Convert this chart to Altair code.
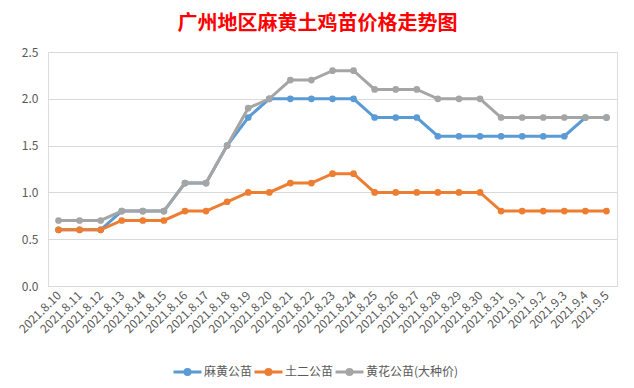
import altair as alt
import pandas as pd

dates = ["2021.8.10", "2021.8.11", "2021.8.12", "2021.8.13", "2021.8.14", "2021.8.15",
         "2021.8.16", "2021.8.17", "2021.8.18", "2021.8.19", "2021.8.20", "2021.8.21",
         "2021.8.22", "2021.8.23", "2021.8.24", "2021.8.25", "2021.8.26", "2021.8.27",
         "2021.8.28", "2021.8.29", "2021.8.30", "2021.8.31", "2021.9.1", "2021.9.2",
         "2021.9.3", "2021.9.4", "2021.9.5"]
series_names = ["麻黄公苗", "土二公苗", "黄花公苗(大种价)"]
mahuang = [0.6, 0.6, 0.6, 0.8, 0.8, 0.8, 1.1, 1.1, 1.5, 1.8, 2.0, 2.0, 2.0, 2.0, 2.0,
           1.8, 1.8, 1.8, 1.6, 1.6, 1.6, 1.6, 1.6, 1.6, 1.6, 1.8, 1.8]
tuer = [0.6, 0.6, 0.6, 0.7, 0.7, 0.7, 0.8, 0.8, 0.9, 1.0, 1.0, 1.1, 1.1, 1.2, 1.2,
        1.0, 1.0, 1.0, 1.0, 1.0, 1.0, 0.8, 0.8, 0.8, 0.8, 0.8, 0.8]
huanghua = [0.7, 0.7, 0.7, 0.8, 0.8, 0.8, 1.1, 1.1, 1.5, 1.9, 2.0, 2.2, 2.2, 2.3, 2.3,
            2.1, 2.1, 2.1, 2.0, 2.0, 2.0, 1.8, 1.8, 1.8, 1.8, 1.8, 1.8]
colors = ["#5B9BD5", "#ED7D31", "#A5A5A5"]

rows = []
for name, vals in zip(series_names, [mahuang, tuer, huanghua]):
    for d, v in zip(dates, vals):
        rows.append({"date": d, "value": v, "series": name})
df = pd.DataFrame(rows)

FONT = "Noto Sans CJK SC"
LABEL_COLOR = "#595959"

x = alt.X("date:N", sort=dates, title=None,
          scale=alt.Scale(type="point", padding=0.5),
          axis=alt.Axis(labelAngle=315, labelAlign="right", labelBaseline="middle",
                        labelPadding=7, ticks=False, domainColor="#D9D9D9",
                        labelFontSize=12, labelColor=LABEL_COLOR, labelFont=FONT,
                        labelOverlap=False))
y = alt.Y("value:Q", title=None,
          scale=alt.Scale(domain=[0, 2.5], nice=False),
          axis=alt.Axis(values=[0, 0.5, 1.0, 1.5, 2.0, 2.5], format=".1f", domain=False,
                        ticks=False, labelPadding=10, gridColor="#D9D9D9",
                        labelFontSize=12, labelColor=LABEL_COLOR, labelFont=FONT))

sym = "M-1,0H1M-0.18,0A0.18,0.18,0,1,1,0.18,0A0.18,0.18,0,1,1,-0.18,0Z"
color = alt.Color("series:N", sort=series_names,
                  scale=alt.Scale(domain=series_names, range=colors),
                  legend=alt.Legend(title=None, orient="none", direction="horizontal",
                                    legendX=124, legendY=304, symbolType=sym,
                                    symbolSize=784, symbolStrokeWidth=3,
                                    labelFontSize=12, labelColor=LABEL_COLOR, labelFont=FONT,
                                    labelOffset=1, columnPadding=-12))

layers = []
for name in series_names:
    base = alt.Chart(df).transform_filter(alt.datum.series == name)
    layers.append(base.mark_line(strokeWidth=3).encode(x=x, y=y, color=color))
    layers.append(base.mark_circle(size=45, opacity=1).encode(x=x, y=y, color=color))

chart = alt.layer(*layers).properties(
    width=569, height=234,
    title=alt.TitleParams("广州地区麻黄土鸡苗价格走势图", font=FONT, fontSize=20,
                          fontWeight="bold", color="#FF0000", anchor="middle",
                          dx=-15, offset=12),
    autosize=alt.AutoSizeParams(type="none"),
    padding={"left": 40, "top": 44, "right": 9, "bottom": 94},
).configure_view(stroke=None).configure(background="white")

chart.save("out.html", embed_options={"renderer": "svg", "actions": False})
